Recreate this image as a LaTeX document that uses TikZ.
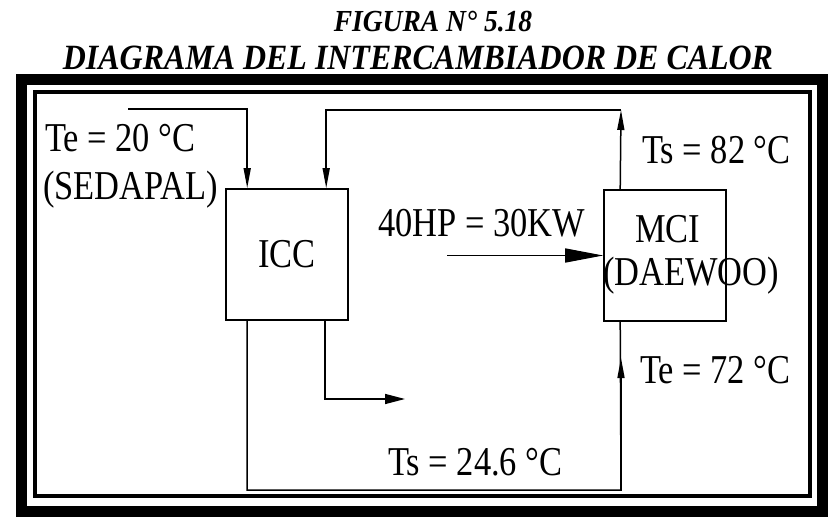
\documentclass[tikz,border=0pt]{standalone}
\usepackage{fontspec}
\setmainfont{Liberation Serif}[FakeStretch=0.84]
\newfontfamily\titlefont{Liberation Serif}[FakeStretch=0.9]
\usepackage{tikz}
\usetikzlibrary{positioning,arrows.meta,calc}

\begin{document}
\begin{tikzpicture}[x=1pt,y=-1pt,
  box/.style={draw,line width=1.6pt,minimum width=122pt,minimum height=131pt,inner sep=0pt,font=\fontsize{41}{44}\selectfont},
  lbl/.style={inner sep=0pt,anchor=base west,font=\fontsize{41}{44}\selectfont},
  headline/.style={inner sep=0pt,anchor=base},
  pipe/.style={line width=1.5pt},
  flow/.style={pipe,-{Triangle[length=20pt,width=7pt]}}]
  \useasboundingbox (0,0) rectangle (834,518);
  % title
  \node[headline,font=\titlefont\bfseries\itshape\fontsize{30.6}{33}\selectfont] (fig) at (433,32) {FIGURA N° 5.18};
  \node[headline,font=\titlefont\bfseries\itshape\fontsize{35.5}{38}\selectfont] (diag) at (418,70) {DIAGRAMA DEL INTERCAMBIADOR DE CALOR};
  % double frame
  \draw[line width=11pt] (21.5,80) rectangle (822.5,511);
  \draw[line width=4pt] (34.5,92.5) rectangle (809.5,495.5);
  % units
  \node[box] (icc) at (287,254.5) {ICC};
  \node[box] (mci) at (665,255.5) {};
  \node[lbl] (mcitxt) at (635,243) {MCI};
  \node[lbl] (daewoo) at (603,285) {(DAEWOO)};
  % labels
  \node[lbl] (te20) at (45,152) {Te = 20 °C};
  \node[lbl] (sedapal) at (43,200) {(SEDAPAL)};
  \node[lbl] (power) at (378,237) {40HP = 30KW};
  \node[lbl] (ts82) at (642,164) {Ts = 82 °C};
  \node[lbl] (te72) at (640,383) {Te = 72 °C};
  \node[lbl] (ts246) at (388,475) {Ts = 24.6 °C};
  % pipe ends
  \coordinate (inlet) at (128,109);
  \coordinate (rettop) at (621,110);
  \coordinate (retbot) at (621,490);
  \coordinate (arr72) at (621,358);
  \coordinate (drain) at (405,399);
  \coordinate (shaft) at (447,255.5);
  % connections
  \draw[flow] (inlet) -| ([xshift=22pt]icc.north west);
  \draw[flow] ([xshift=17pt]mci.north west) -- (rettop);
  \draw[flow] (rettop) -| ([xshift=101pt]icc.north west);
  \draw[pipe] ([xshift=22pt]icc.south west) |- (retbot) -- ([xshift=17pt]mci.south west);
  \draw[flow] (retbot) -- (arr72);
  \draw[pipe,-{Triangle[length=20pt,width=10pt]}] ([xshift=100pt]icc.south west) |- (drain);
  \draw[pipe,-{Triangle[length=38pt,width=14pt]}] (shaft) -- (mci.west);
\end{tikzpicture}
\end{document}
